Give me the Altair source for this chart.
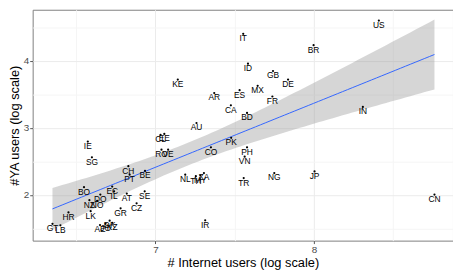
import altair as alt
import numpy as np
import pandas as pd

countries = ["US", "BR", "IT", "ID", "GB", "DE", "KE", "MX", "ES", "AR", "FR", "CA", "BD", "AU",
             "IN", "CL", "EE", "IE", "SG", "RO", "VE", "CO", "PK", "PH", "VN", "CH", "PT", "BE",
             "NL", "TH", "MY", "ZA", "TR", "NG", "JP", "CN", "IR", "BO", "EC", "IL", "DO", "AT",
             "SE", "NZ", "NO", "LK", "HR", "GR", "CZ", "GT", "LB", "AE", "JO", "DK", "KZ"]
internet_log = [8.410, 7.998, 7.554, 7.584, 7.742, 7.837, 7.141, 7.645, 7.531, 7.371, 7.738, 7.476, 7.578, 7.259,
                8.309, 7.032, 7.056, 6.573, 6.599, 7.038, 7.080, 7.350, 7.478, 7.578, 7.563, 6.829, 6.837, 6.934,
                7.188, 7.255, 7.283, 7.306, 7.557, 7.750, 8.004, 8.761, 7.314, 6.549, 6.727, 6.739, 6.652, 6.819,
                6.932, 6.583, 6.632, 6.591, 6.451, 6.780, 6.881, 6.350, 6.400, 6.650, 6.685, 6.711, 6.727]
ya_log = [4.596, 4.230, 4.399, 3.954, 3.845, 3.718, 3.718, 3.624, 3.559, 3.517, 3.465, 3.334, 3.221, 3.070,
          3.310, 2.894, 2.908, 2.793, 2.559, 2.673, 2.673, 2.708, 2.849, 2.708, 2.568, 2.427, 2.300, 2.356,
          2.300, 2.277, 2.286, 2.324, 2.249, 2.324, 2.348, 2.004, 1.620, 2.113, 2.123, 2.052, 2.004, 2.018,
          2.052, 1.920, 1.911, 1.756, 1.737, 1.799, 1.873, 1.568, 1.545, 1.549, 1.568, 1.615, 1.582]

x_ticks = [6.5, 7, 7.5, 8, 8.5]
y_ticks = [1.5, 2, 2.5, 3, 3.5, 4, 4.5]
X_DOMAIN = [6.225, 8.878]
Y_DOMAIN = [1.317, 4.758]

df = pd.DataFrame({"country": countries, "x": internet_log, "y": ya_log})

# linear fit with 95% confidence band (like geom_smooth(method="lm"))
xa = np.array(internet_log)
yv = np.array(ya_log)
n = len(xa)
b1, b0 = np.polyfit(xa, yv, 1)
resid = yv - (b0 + b1 * xa)
s = np.sqrt((resid ** 2).sum() / (n - 2))
sxx = ((xa - xa.mean()) ** 2).sum()
grid = np.linspace(xa.min(), xa.max(), 80)
fit = b0 + b1 * grid
se = s * np.sqrt(1.0 / n + (grid - xa.mean()) ** 2 / sxx)
tq = 2.006
band = pd.DataFrame({"x": grid, "fit": fit, "lo": fit - tq * se, "hi": fit + tq * se})

xscale = alt.Scale(domain=X_DOMAIN, nice=False, zero=False)
yscale = alt.Scale(domain=Y_DOMAIN, nice=False, zero=False)

minor = "datum.value % 1 != 0"
grid_color = {"condition": {"test": minor, "value": "#f5f5f5"}, "value": "#ebebeb"}
tick_op = {"condition": {"test": minor, "value": 0}, "value": 1}
lab_expr = "datum.value % 1 == 0 ? format(datum.value, 'd') : ''"

xaxis = alt.Axis(values=x_ticks, grid=True, gridColor=grid_color, tickOpacity=tick_op,
                 labelExpr=lab_expr, domain=False, title="# Internet users (log scale)")
yaxis = alt.Axis(values=y_ticks, grid=True, gridColor=grid_color, tickOpacity=tick_op,
                 labelExpr=lab_expr, domain=False, title="#YA users (log scale)")

X = alt.X("x:Q", scale=xscale, axis=xaxis, title="# Internet users (log scale)")

band_layer = alt.Chart(band).mark_area(color="#999999", opacity=0.4).encode(
    x=X,
    y=alt.Y("lo:Q", scale=yscale, axis=yaxis, title="#YA users (log scale)"),
    y2="hi:Q",
)
line_layer = alt.Chart(band).mark_line(color="#3366FF", strokeWidth=1).encode(
    x=X,
    y=alt.Y("fit:Q", scale=yscale, axis=yaxis, title="#YA users (log scale)"),
)
pts = alt.Chart(df).mark_circle(size=5, color="black", opacity=1).encode(
    x=X,
    y=alt.Y("y:Q", scale=yscale, axis=yaxis, title="#YA users (log scale)"),
)
labels = alt.Chart(df).mark_text(baseline="top", dy=0.5, fontSize=8.5, font="Liberation Sans",
                                 color="black").encode(
    x=X,
    y=alt.Y("y:Q", scale=yscale, axis=yaxis, title="#YA users (log scale)"),
    text="country:N",
)

chart = alt.layer(band_layer, line_layer, pts, labels).properties(
    width=426, height=234, padding=0
).configure_view(
    stroke="#7f7f7f", strokeWidth=1
).configure_axis(
    labelFont="Liberation Sans", titleFont="Liberation Sans",
    labelFontSize=10, titleFontSize=13, labelColor="#4d4d4d", titleColor="black",
    titleFontWeight="normal", tickSize=3, tickColor="#555555", labelPadding=1,
    titlePadding=2
)

chart.save("out.html", embed_options={"renderer": "svg", "actions": False})
